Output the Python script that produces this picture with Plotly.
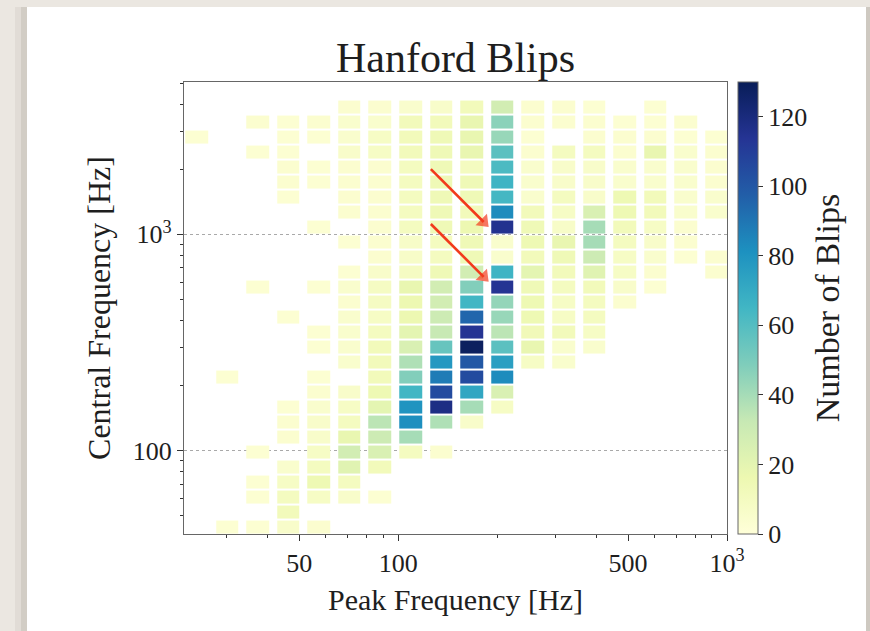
import numpy as np
import plotly.graph_objects as go

# ---- histogram bins (log-spaced) ----
peak_log_start, peak_log_step, n_peak = 1.3401, 0.0930, 18          # Peak Frequency bins
cent_log_top, cent_log_step, n_cent = 3.6922, 0.06932, 30           # Central Frequency bins
peak_edges = 10 ** (peak_log_start + peak_log_step * np.arange(n_peak + 1))
cent_edges_desc = 10 ** (cent_log_top - cent_log_step * np.arange(n_cent + 1))

# ---- counts per Peak-Frequency column, rows listed from top (high central freq) to bottom ----
c00 = [0,0,0,3,0,0,0,0,0,0, 0,0,0,0,0,0,0,0,0,0, 0,0,0,0,0,0,0,0,0,0]
c01 = [0,0,0,0,0,0,0,0,0,0, 0,0,0,0,0,0,0,0,0,3, 0,0,0,0,0,0,0,0,0,3]
c02 = [0,0,4,0,3,0,0,0,0,0, 0,0,0,3,0,0,0,0,0,0, 0,0,0,0,3,0,3,3,0,3]
c03 = [0,0,3,3,3,4,4,3,0,0, 0,0,0,0,0,3,0,0,0,0, 0,3,4,4,0,5,8,10,12,6]
c04 = [0,0,4,3,0,3,3,0,0,3, 0,0,0,3,0,0,3,3,0,3, 4,5,6,6,8,10,15,8,0,4]
c05 = [0,4,5,5,6,4,4,4,4,0, 3,0,3,5,4,5,5,5,5,0, 6,8,10,18,28,22,10,6,0,0]
c06 = [0,4,5,8,8,4,4,4,4,4, 4,4,6,9,9,8,10,12,12,12, 15,20,35,30,25,12,0,3,0,0]
c07 = [0,5,12,12,12,10,10,10,10,10, 7,7,9,18,16,16,20,25,38,48, 65,80,82,40,10,0,0,0,0,0]
c08 = [0,6,12,14,14,14,14,14,14,14, 10,10,14,28,28,30,32,55,78,88, 105,118,38,0,4,0,0,0,0,0]
c09 = [0,12,18,18,18,10,14,14,12,16, 14,14,28,48,65,95,114,128,100,105, 72,40,6,0,0,0,0,0,0,0]
c10 = [0,28,46,43,58,62,66,64,83,115, 5,5,66,114,44,43,35,58,75,83, 25,8,0,0,0,0,0,0,0,0]
c11 = [0,4,4,3,4,5,5,5,12,14, 15,12,20,14,15,15,13,18,8,0, 0,0,0,0,0,0,0,0,0,0]
c12 = [0,4,4,0,10,6,6,10,8,7, 18,14,12,10,8,8,12,5,5,0, 0,0,0,0,0,0,0,0,0,0]
c13 = [0,3,4,4,10,6,6,6,25,40, 40,30,22,12,10,10,8,5,0,0, 0,0,0,0,0,0,0,0,0,0]
c14 = [0,0,3,4,4,5,5,15,15,12, 10,8,8,6,4,0,0,0,0,0, 0,0,0,0,0,0,0,0,0,0]
c15 = [0,3,3,4,18,5,5,12,12,8, 6,5,4,3,0,0,0,0,0,0, 0,0,0,0,0,0,0,0,0,0]
c16 = [0,0,4,3,5,5,5,5,5,4, 4,3,0,0,0,0,0,0,0,0, 0,0,0,0,0,0,0,0,0,0]
c17 = [0,0,0,3,4,4,4,5,5,0, 0,4,4,0,0,0,0,0,0,0, 0,0,0,0,0,0,0,0,0,0]
columns = [c00, c01, c02, c03, c04, c05, c06, c07, c08, c09,
           c10, c11, c12, c13, c14, c15, c16, c17]

x_tickvals = [50, 100, 500, 1000]
x_ticktext = ["50", "100", "500", "10<sup>3</sup>"]
x_minor = [30, 40, 60, 70, 80, 90, 200, 300, 400, 600, 700, 800, 900]
y_tickvals = [100, 1000]
y_ticktext = ["100", "10<sup>3</sup>"]
y_minor = [50, 60, 70, 80, 90, 200, 300, 400, 500, 600, 700, 800, 900, 2000, 3000, 4000, 5000]
cbar_ticks = [0, 20, 40, 60, 80, 100, 120]

# red arrows pointing at the two peaks of the ~200 Hz column (tail -> head, Hz)
arrow1_x, arrow1_y = [125.7, 182.0], [2003, 1140]
arrow2_x, arrow2_y = [125.7, 182.0], [1116, 636]

# z: rows bottom -> top, empty bins left blank
z = [[(columns[i][n_cent - 1 - j] or None) for i in range(n_peak)] for j in range(n_cent)]
cent_edges = cent_edges_desc[::-1]

YLGNBU = [[0.0, "#ffffd9"], [0.125, "#edf8b1"], [0.25, "#c7e9b4"], [0.375, "#7fcdbb"],
          [0.5, "#41b6c4"], [0.625, "#1d91c0"], [0.75, "#225ea8"], [0.875, "#253494"],
          [1.0, "#081d58"]]

FONT = "Liberation Serif"
TXT = "#1e1e1e"
RED = "#f23a1c"

fig = go.Figure(go.Heatmap(
    x=peak_edges, y=cent_edges, z=z,
    colorscale=YLGNBU, zmin=0, zmax=130,
    xgap=8, ygap=2, hoverongaps=False,
    colorbar=dict(
        x=1.0203, xanchor="left", xpad=0, ypad=0,
        y=0.5, yanchor="middle", len=452, lenmode="pixels",
        thickness=20, outlinewidth=1, outlinecolor="#666",
        tickmode="array", tickvals=cbar_ticks, ticks="outside", ticklen=5,
        tickcolor="#333", tickfont=dict(family=FONT, size=26, color=TXT),
        title=dict(text="Number of Blips", side="right",
                   font=dict(family=FONT, size=34, color=TXT)),
    ),
))

for ax_, ay_ in [(arrow1_x, arrow1_y), (arrow2_x, arrow2_y)]:
    fig.add_trace(go.Scatter(
        x=ax_, y=ay_, mode="lines+markers", showlegend=False, hoverinfo="skip",
        line=dict(color=RED, width=2.6),
        marker=dict(symbol="triangle-up", angleref="previous", size=[0, 14], color=RED,
                    line=dict(width=0)),
    ))

px2x = lambda px: (px - 184) / 543
px2y = lambda py: (534 - py) / 452

shapes = [
    dict(type="rect", xref="paper", yref="paper", x0=px2x(27), x1=px2x(866),
         y0=px2y(700), y1=px2y(7), fillcolor="white", line=dict(width=0), layer="below"),
    dict(type="rect", xref="paper", yref="paper", x0=px2x(15), x1=px2x(27),
         y0=px2y(700), y1=px2y(7), fillcolor="rgba(140,130,120,0.10)", line=dict(width=0), layer="below"),
    dict(type="rect", xref="paper", yref="paper", x0=px2x(21), x1=px2x(27),
         y0=px2y(700), y1=px2y(7), fillcolor="rgba(120,110,100,0.14)", line=dict(width=0), layer="below"),
    dict(type="rect", xref="paper", yref="paper", x0=px2x(866), x1=px2x(872),
         y0=px2y(700), y1=px2y(7), fillcolor="rgba(120,110,100,0.25)", line=dict(width=0), layer="below"),
]

axis_common = dict(
    type="log", showline=True, linecolor="#666", linewidth=1.2, mirror=True,
    ticks="outside", ticklen=6, tickcolor="#333", tickwidth=1,
    tickfont=dict(family=FONT, size=26, color=TXT), zeroline=False,
)

fig.update_layout(
    width=870, height=631,
    margin=dict(l=184, r=143, t=82, b=97),
    paper_bgcolor="#ebe7e1", plot_bgcolor="white",
    font=dict(family=FONT, color=TXT),
    title=dict(text="Hanford Blips", x=0.5, xref="paper", xanchor="center",
               y=1 - 57 / 631, yanchor="middle", font=dict(family=FONT, size=42, color=TXT)),
    xaxis=dict(axis_common, range=[1.3486, 3.0], tickmode="array",
               tickvals=x_tickvals, ticktext=x_ticktext, showgrid=False,
               minor=dict(tickmode="array", tickvals=x_minor, ticks="outside", ticklen=3,
                          tickcolor="#333", showgrid=False),
               title=dict(text="Peak Frequency [Hz]", standoff=11,
                          font=dict(family=FONT, size=30, color=TXT))),
    yaxis=dict(axis_common, range=[1.615, 3.704], tickmode="array",
               tickvals=y_tickvals, ticktext=y_ticktext,
               showgrid=True, gridcolor="#a9a9a9", gridwidth=1, griddash="dot",
               layer="above traces",
               minor=dict(tickmode="array", tickvals=y_minor, ticks="outside", ticklen=3,
                          tickcolor="#333", showgrid=False),
               title=dict(text="Central Frequency [Hz]", standoff=12,
                          font=dict(family=FONT, size=32, color=TXT))),
    shapes=shapes,
)

fig.write_html("out.html")
